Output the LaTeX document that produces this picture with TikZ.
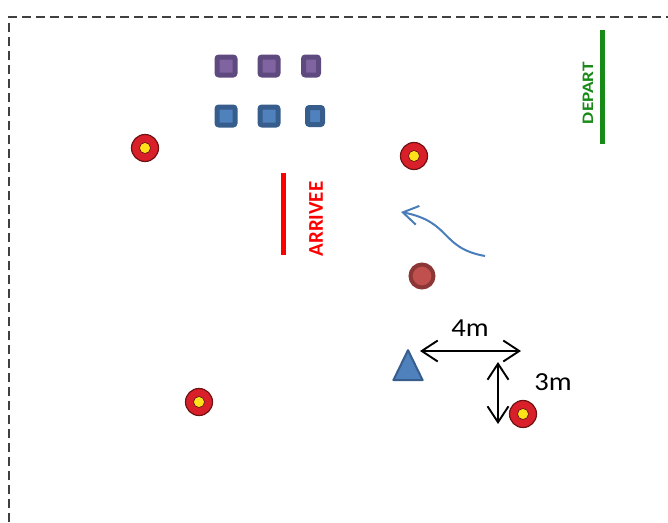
\documentclass[tikz,border=0pt]{standalone}
\usepackage{fontspec}
\setmainfont{Carlito}
\usetikzlibrary{arrows.meta,shapes.geometric}
\definecolor{purO}{HTML}{5E4A7E}
\definecolor{purI}{HTML}{8064A2}
\definecolor{bluO}{HTML}{375D8C}
\definecolor{bluI}{HTML}{4F81BD}
\definecolor{tgtR}{HTML}{D9202A}
\definecolor{tgtD}{HTML}{6E1212}
\definecolor{tgtY}{HTML}{FFE21A}
\definecolor{ballO}{HTML}{8C3636}
\definecolor{ballI}{HTML}{C0504D}
\definecolor{grn}{HTML}{178A17}
\definecolor{arrB}{HTML}{4A7EBB}
\tikzset{
  sqbox/.style={minimum width=18pt,minimum height=18pt,inner sep=0pt,line width=5pt,rounded corners=2pt},
  sqpur/.style={sqbox,draw=purO,fill=purI},
  sqblu/.style={sqbox,draw=bluO,fill=bluI},
  tgtout/.style={circle,minimum size=27pt,inner sep=0pt,fill=tgtR,draw=tgtD,line width=1.2pt},
  tgtin/.style={circle,minimum size=11pt,inner sep=0pt,fill=tgtY,draw=tgtD!80!black,line width=0.6pt},
  dimarrow/.style={line width=1.9pt,{Straight Barb[length=16pt,width=21pt,line width=1.9pt]}-{Straight Barb[length=16pt,width=21pt,line width=1.9pt]}},
  lbl/.style={font=\fontsize{26}{28}\selectfont,inner sep=0pt}
}
\begin{document}
\begin{tikzpicture}[x=1pt,y=-1pt]
\useasboundingbox (0,0) rectangle (668,522);
% dashed frame
\draw[black!75,line width=1.2pt,dash pattern=on 9pt off 5pt] (9,522) -- (9,17) -- (668,17);
% squares
\node[sqpur] (p1) at (226,66) {};
\node[sqpur] (p2) at (269,66) {};
\node[sqpur,minimum width=15pt] (p3) at (311,66) {};
\node[sqblu] (b1) at (226,116) {};
\node[sqblu] (b2) at (269,116) {};
\node[sqblu,minimum width=15pt,minimum height=17pt] (b3) at (315,116) {};
% targets
\foreach \n/\x/\y in {t1/145/148,t2/414/156,t3/199/402,t4/523/414}{
  \node[tgtout] (\n) at (\x,\y) {};
  \node[tgtin] (\n i) at (\x,\y) {};
}
% ball
\node[circle,minimum size=23pt,inner sep=0pt,fill=ballI,draw=ballO,line width=4pt] (ball) at (422,276) {};
% triangle
\node[isosceles triangle,isosceles triangle apex angle=52,shape border rotate=90,minimum height=30pt,inner sep=0pt,fill=bluI,draw=bluO,line width=2pt,line join=round] (tri) at (408,371) {};
% depart
\node[fill=grn,minimum width=5pt,minimum height=114pt,inner sep=0pt] (dep) at (602,87) {};
\node[rotate=90,text=grn,inner sep=0pt] (deptxt) at (588,93) {\scalebox{1.2}[1]{\fontsize{16}{18}\selectfont\bfseries DEPART}};
% arrivee
\node[fill=red,minimum width=5pt,minimum height=82pt,inner sep=0pt] (arr) at (283,214) {};
\node[rotate=90,text=red,inner sep=0pt] (arrtxt) at (316,219) {\fontsize{21}{23}\selectfont\bfseries ARRIVEE};
% curved arrow
\coordinate (cs) at (485,256);
\coordinate (ce) at (401,212);
\draw[arrB,line width=2pt,-{Straight Barb[length=15pt,width=19pt,line width=2pt]}] (cs) .. controls (440,248) and (452,222) .. (ce);
% dimensions
\coordinate (h1) at (420,351);
\coordinate (h2) at (521,351);
\coordinate (v1) at (498,362);
\coordinate (v2) at (498,424);
\draw[dimarrow] (h1) -- (h2);
\draw[dimarrow] (v1) -- (v2);
\node[lbl] (l4) at (470,328) {\scalebox{1.1}[1]{4m}};
\node[lbl] (l3) at (553,382) {\scalebox{1.1}[1]{3m}};
\end{tikzpicture}
\end{document}
